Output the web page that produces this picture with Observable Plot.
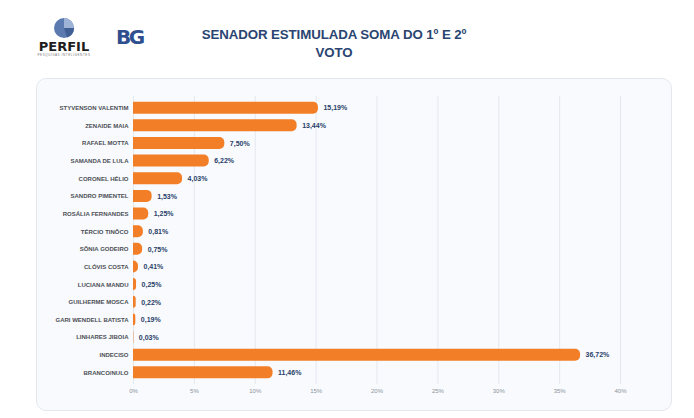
<!DOCTYPE html>
<html>
<head>
<meta charset="utf-8">
<script src="https://cdn.jsdelivr.net/npm/d3@7"></script>
<script src="https://cdn.jsdelivr.net/npm/@observablehq/plot@0.6"></script>
<style>
  html, body { margin: 0; padding: 0; background: #ffffff; }
  #page { position: relative; width: 694px; height: 418px; overflow: hidden; font-family: "Liberation Sans", Arial, sans-serif; }
  #title { position: absolute; left: 134px; width: 400px; top: 26px; text-align: center; color: #2a4572; font-weight: bold; font-size: 13.3px; line-height: 18px; letter-spacing: -0.1px; }
  #panel { position: absolute; left: 36px; top: 78px; width: 636px; height: 333px; border: 1px solid #e4e8ee; border-radius: 10px; background: #f8fafd; box-sizing: border-box; }
  #chart { position: absolute; left: 0; top: 78px; }
  #perfil { position: absolute; left: 32px; top: 17px; width: 64px; text-align: center; }
  #perfil .name { font-family: "DejaVu Sans", sans-serif; font-weight: bold; font-size: 13px; color: #1d1d1d; letter-spacing: 0px; line-height: 13px; margin-top: 1px; }
  #perfil .sub { font-size: 3px; color: #777; letter-spacing: 0.6px; line-height: 4px; }
  #bg { position: absolute; left: 116px; top: 25px; font-family: "DejaVu Sans", sans-serif; font-weight: bold; font-size: 20px; color: #2f4f8f; letter-spacing: -2.5px; }
</style>
</head>
<body>
<div id="page">
  <div id="perfil">
    <svg width="22" height="22" viewBox="-11 -11 22 22" style="display:block;margin:0 auto;">
      <circle r="10" fill="#5b7bb0"></circle>
      <path d="M0,0 L0,-10 A10,10 0 0,1 10,0 Z" fill="#9fb3d6"></path>
      <path d="M0,0 L10,0 A10,10 0 0,1 3,9.5 Z" fill="#3f5f95"></path>
    </svg>
    <div class="name">PERFIL</div>
    <div class="sub">PESQUISAS INTELIGENTES</div>
  </div>
  <div id="bg">BG</div>
  <div id="title">SENADOR ESTIMULADA SOMA DO 1º E 2º<br>VOTO</div>
  <div id="panel"></div>
  <div id="chart"></div>
</div>
<script>
const names = ["STYVENSON VALENTIM","ZENAIDE MAIA","RAFAEL MOTTA","SAMANDA DE LULA","CORONEL HÉLIO","SANDRO PIMENTEL","ROSÁLIA FERNANDES","TÉRCIO TINÔCO","SÔNIA GODEIRO","CLÓVIS COSTA","LUCIANA MANDU","GUILHERME MOSCA","GARI WENDELL BATISTA","LINHARES JIBOIA","INDECISO","BRANCO/NULO"];
const values = [15.19,13.44,7.50,6.22,4.03,1.53,1.25,0.81,0.75,0.41,0.25,0.22,0.19,0.03,36.72,11.46];
const xTicks = [0,5,10,15,20,25,30,35,40];

const data = names.map((name, i) => ({name, value: values[i]}));
const fmt = v => v.toFixed(2).replace(".", ",") + "%";
const orange = "#f27f27";

const chart = Plot.plot({
  width: 694,
  height: 340,
  marginLeft: 133,
  marginRight: 74,
  marginTop: 18,
  marginBottom: 34,
  style: {background: "transparent", fontFamily: "'Liberation Sans', Arial, sans-serif", overflow: "visible"},
  x: {domain: [0, 40]},
  y: {domain: names, padding: 0.32, round: false},
  marks: [
    Plot.gridX(xTicks, {stroke: "#e3e8ef", strokeOpacity: 1, strokeWidth: 1}),
    Plot.axisX(xTicks, {tickSize: 0, tickPadding: 4, fontSize: 6, color: "#8c929c", tickFormat: d => d + "%", label: null}),
    Plot.axisY({tickSize: 0, tickPadding: 5, fontSize: 6, color: "#4d4f55", fontWeight: 600, label: null}),
    Plot.barX(data, {x: "value", y: "name", fill: orange, rx2: 5}),
    Plot.text(data, {x: "value", y: "name", text: d => fmt(d.value), dx: 5, textAnchor: "start", fill: "#283f69", fontWeight: "bold", fontSize: 7})
  ]
});
document.getElementById("chart").appendChild(chart);
</script>
</body>
</html>
